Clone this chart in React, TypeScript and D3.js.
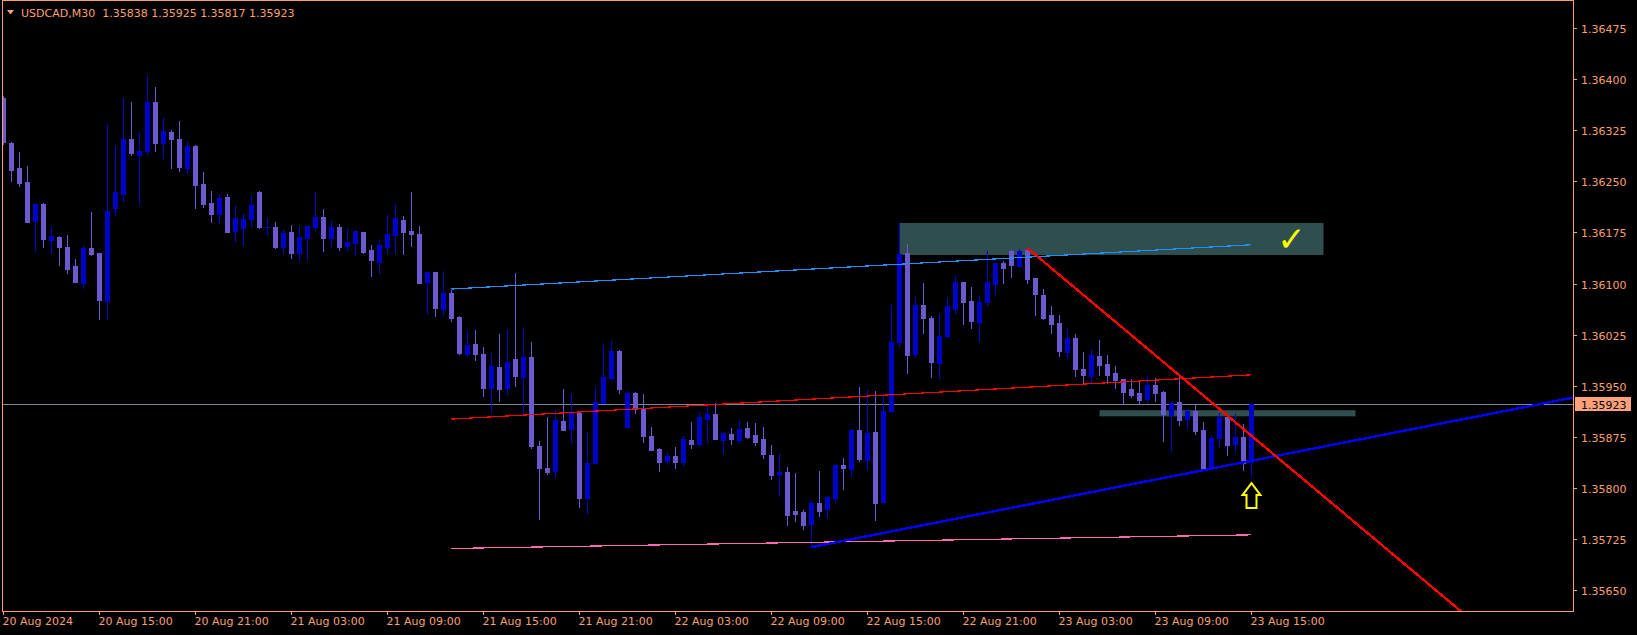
import React, { useEffect } from "react";
import * as d3 from "d3";

// ---- Data (USDCAD, M30) ----
const OPEN = [1.36373,1.36306,1.36270,1.36249,1.36192,1.36217,1.36164,1.36168,1.36154,1.36126,1.36101,1.36152,1.36145,1.36074,1.36211,1.36231,1.36312,1.36289,1.36295,1.36367,1.36306,1.36323,1.36312,1.36270,1.36302,1.36246,1.36218,1.36202,1.36227,1.36177,1.36182,1.36195,1.36234,1.36183,1.36183,1.36154,1.36176,1.36145,1.36167,1.36183,1.36198,1.36167,1.36183,1.36155,1.36160,1.36176,1.36149,1.36132,1.36154,1.36171,1.36193,1.36177,1.36173,1.36102,1.36117,1.36063,1.36086,1.36051,1.35996,1.36011,1.35996,1.35947,1.35977,1.35947,1.35989,1.35963,1.35992,1.35861,1.35829,1.35825,1.35898,1.35886,1.35910,1.35785,1.35836,1.35924,1.35961,1.36001,1.35889,1.35939,1.35916,1.35876,1.35857,1.35839,1.35847,1.35838,1.35870,1.35864,1.35901,1.35908,1.35870,1.35879,1.35870,1.35888,1.35877,1.35872,1.35848,1.35820,1.35823,1.35766,1.35764,1.35747,1.35778,1.35769,1.35785,1.35833,1.35828,1.35885,1.35841,1.35882,1.35779,1.35913,1.36014,1.36145,1.35996,1.36068,1.36049,1.35983,1.36023,1.36063,1.36102,1.36074,1.36043,1.36073,1.36099,1.36130,1.36148,1.36126,1.36149,1.36108,1.36083,1.36054,1.36042,1.35999,1.36020,1.35974,1.35964,1.35994,1.35982,1.35969,1.35960,1.35945,1.35939,1.35930,1.35951,1.35941,1.35907,1.35926,1.35901,1.35913,1.35885,1.35829,1.35873,1.35904,1.35864,1.35875,1.35838];
const HIGH = [1.36376,1.36308,1.36293,1.36273,1.36218,1.36218,1.36183,1.36170,1.36171,1.36136,1.36155,1.36205,1.36145,1.36334,1.36302,1.36372,1.36367,1.36323,1.36406,1.36389,1.36343,1.36325,1.36339,1.36308,1.36303,1.36264,1.36236,1.36231,1.36231,1.36214,1.36202,1.36230,1.36236,1.36196,1.36190,1.36179,1.36186,1.36184,1.36184,1.36234,1.36209,1.36192,1.36187,1.36180,1.36177,1.36176,1.36157,1.36165,1.36201,1.36217,1.36199,1.36234,1.36184,1.36117,1.36117,1.36118,1.36090,1.36052,1.36030,1.36032,1.36007,1.35998,1.36026,1.36032,1.36115,1.36036,1.36014,1.35869,1.35904,1.35914,1.35945,1.35938,1.35910,1.35882,1.35948,1.36010,1.36016,1.36002,1.35942,1.35941,1.35938,1.35889,1.35858,1.35853,1.35860,1.35876,1.35897,1.35910,1.35920,1.35924,1.35882,1.35888,1.35900,1.35897,1.35895,1.35889,1.35863,1.35850,1.35830,1.35822,1.35767,1.35781,1.35825,1.35788,1.35833,1.35844,1.35886,1.35948,1.35944,1.35942,1.35938,1.36068,1.36189,1.36158,1.36080,1.36101,1.36052,1.36055,1.36079,1.36111,1.36102,1.36095,1.36083,1.36148,1.36130,1.36133,1.36149,1.36151,1.36152,1.36108,1.36092,1.36067,1.36054,1.36033,1.36026,1.35999,1.36002,1.36017,1.35995,1.35979,1.35960,1.35960,1.35955,1.35966,1.35961,1.35942,1.35927,1.35963,1.35916,1.35922,1.35897,1.35877,1.35910,1.35905,1.35908,1.35894,1.35925];
const LOW = [1.36305,1.36251,1.36243,1.36190,1.36148,1.36154,1.36145,1.36127,1.36115,1.36102,1.36093,1.36142,1.36048,1.36048,1.36201,1.36221,1.36289,1.36217,1.36290,1.36295,1.36284,1.36270,1.36265,1.36262,1.36211,1.36212,1.36190,1.36189,1.36176,1.36162,1.36157,1.36184,1.36182,1.36173,1.36152,1.36145,1.36137,1.36135,1.36135,1.36179,1.36148,1.36155,1.36149,1.36149,1.36143,1.36145,1.36111,1.36115,1.36145,1.36145,1.36143,1.36155,1.36101,1.36057,1.36052,1.36054,1.36045,1.35996,1.35994,1.35988,1.35935,1.35911,1.35927,1.35938,1.35949,1.35910,1.35858,1.35754,1.35820,1.35816,1.35885,1.35867,1.35772,1.35763,1.35836,1.35924,1.35960,1.35939,1.35889,1.35910,1.35867,1.35855,1.35825,1.35835,1.35829,1.35833,1.35858,1.35861,1.35867,1.35872,1.35851,1.35864,1.35867,1.35873,1.35863,1.35844,1.35813,1.35788,1.35745,1.35751,1.35739,1.35713,1.35758,1.35757,1.35779,1.35798,1.35817,1.35839,1.35828,1.35753,1.35779,1.35911,1.36007,1.35969,1.35992,1.36027,1.35963,1.35961,1.36021,1.36057,1.36041,1.36035,1.36016,1.36068,1.36085,1.36101,1.36110,1.36124,1.36101,1.36054,1.36048,1.36027,1.35994,1.35991,1.35964,1.35952,1.35952,1.35966,1.35954,1.35947,1.35924,1.35933,1.35924,1.35926,1.35927,1.35869,1.35854,1.35892,1.35888,1.35879,1.35826,1.35829,1.35860,1.35848,1.35853,1.35826,1.35817];
const CLOSE = [1.36308,1.36267,1.36248,1.36190,1.36217,1.36165,1.36170,1.36154,1.36121,1.36102,1.36152,1.36143,1.36076,1.36207,1.36234,1.36312,1.36292,1.36295,1.36367,1.36306,1.36324,1.36312,1.36271,1.36302,1.36245,1.36217,1.36202,1.36226,1.36176,1.36196,1.36195,1.36215,1.36183,1.36183,1.36154,1.36174,1.36145,1.36168,1.36184,1.36198,1.36167,1.36183,1.36154,1.36161,1.36177,1.36146,1.36135,1.36157,1.36173,1.36196,1.36176,1.36173,1.36101,1.36117,1.36064,1.36086,1.36049,1.35998,1.36010,1.35996,1.35947,1.35979,1.35945,1.35985,1.35964,1.35992,1.35861,1.35829,1.35823,1.35900,1.35885,1.35910,1.35785,1.35836,1.35926,1.35963,1.36001,1.35945,1.35939,1.35916,1.35876,1.35855,1.35838,1.35847,1.35838,1.35872,1.35864,1.35904,1.35908,1.35872,1.35880,1.35872,1.35886,1.35875,1.35867,1.35850,1.35819,1.35823,1.35760,1.35761,1.35745,1.35778,1.35766,1.35786,1.35833,1.35829,1.35885,1.35842,1.35880,1.35778,1.35913,1.36014,1.36143,1.35995,1.36068,1.36049,1.35985,1.36023,1.36067,1.36102,1.36073,1.36045,1.36073,1.36102,1.36130,1.36123,1.36127,1.36148,1.36107,1.36085,1.36049,1.36041,1.36001,1.36020,1.35974,1.35966,1.35995,1.35980,1.35966,1.35958,1.35941,1.35936,1.35929,1.35951,1.35939,1.35908,1.35924,1.35900,1.35913,1.35883,1.35826,1.35873,1.35904,1.35863,1.35875,1.35836,1.35923];

const TIME_TICK_BARS = [0, 12, 24, 36, 48, 60, 72, 84, 96, 108, 120, 132, 144, 156];
const TIME_LABELS = ["20 Aug 2024", "20 Aug 15:00", "20 Aug 21:00", "21 Aug 03:00", "21 Aug 09:00", "21 Aug 15:00", "21 Aug 21:00", "22 Aug 03:00", "22 Aug 09:00", "22 Aug 15:00", "22 Aug 21:00", "23 Aug 03:00", "23 Aug 09:00", "23 Aug 15:00"];
const PRICE_TICKS = [1.36475, 1.364, 1.36325, 1.3625, 1.36175, 1.361, 1.36025, 1.3595, 1.35875, 1.358, 1.35725, 1.3565];
const SYMBOL_TITLE = "USDCAD,M30  1.35838 1.35925 1.35817 1.35923";
const BID = 1.35923;

// Drawn objects, anchored on [bar index, price]
const CHANNEL_TOP: [number, number][] = [[56, 1.36092], [156, 1.36157]];
const CHANNEL_MID: [number, number][] = [[56, 1.35901], [156, 1.35966]];
const CHANNEL_LOW: [number, number][] = [[56, 1.35711], [156, 1.35731]];
const SUPPORT_RAY: [number, number][] = [[101, 1.35713], [150, 1.35826]];
const RESIST_RAY: [number, number][] = [[128, 1.36152], [147, 1.35965]];
const ZONE_UPPER = { from: 112, to: 165, top: 1.36189, bottom: 1.36142 };
const ZONE_LOWER = { from: 137, to: 169, top: 1.35914, bottom: 1.35905 };
const CHECK_AT: [number, number] = [161, 1.36148];
const ARROW_AT: [number, number] = [156, 1.35807];

const W = 1637;
const H = 635;
const PLOT_L = 2;
const PLOT_R = 1573;
const PLOT_T = 0;
const PLOT_B = 611;
const FG = "#F8A070";
const FONT = "'DejaVu Sans', Tahoma, sans-serif";

export default function App() {
  useEffect(() => {
    document.body.style.margin = "0";
    document.body.style.background = "#000";
  }, []);

  const x = d3.scaleLinear().domain([0, 156]).range([3.5, 1251.5]);
  const y = d3.scaleLinear().domain([1.3565, 1.36475]).range([590, 28.2]);
  const rightIdx = x.invert(PLOT_R + 20);

  const ray = (pts: [number, number][], extend: boolean) => {
    const [[i0, p0], [i1, p1]] = pts;
    const slope = (p1 - p0) / (i1 - i0);
    const iEnd = extend ? rightIdx : i1;
    const pEnd = p0 + slope * (iEnd - i0);
    return d3.line()([[x(i0), y(p0)], [x(iEnd), y(pEnd)]]) || "";
  };

  const candles = OPEN.map((o, i) => {
    const c = CLOSE[i];
    const bull = c >= o;
    const col = bull ? "#0000CD" : "#6A5ACD";
    const cx = x(i);
    const top = Math.round(y(Math.max(o, c)));
    const bot = Math.round(y(Math.min(o, c)));
    const hy = Math.round(y(HIGH[i]));
    const ly = Math.round(y(LOW[i]));
    return (
      <g key={i} fill={col}>
        <rect x={cx - 0.5} y={hy} width={1} height={Math.max(1, ly - hy + 1)} />
        <rect x={cx - 2.5} y={top} width={5} height={Math.max(1, bot - top + 1)} />
      </g>
    );
  });

  const zone = (z: typeof ZONE_UPPER, key: string) => (
    <rect key={key} x={x(z.from)} y={y(z.top)} width={x(z.to) - x(z.from)} height={y(z.bottom) - y(z.top)} fill="#2F4F4F" />
  );

  const ax = x(ARROW_AT[0]);
  const ay = y(ARROW_AT[1]);
  const arrowPath = `M${ax},${ay} L${ax + 9},${ay + 12} L${ax + 5},${ay + 12} L${ax + 5},${ay + 25} L${ax - 5},${ay + 25} L${ax - 5},${ay + 12} L${ax - 9},${ay + 12} Z`;

  const bidY = Math.round(y(BID));

  return (
    <svg width={W} height={H} style={{ display: "block", background: "#000" }} fontFamily={FONT}>
      <defs>
        <clipPath id="plot">
          <rect x={PLOT_L + 1} y={PLOT_T + 1} width={PLOT_R - PLOT_L - 1} height={PLOT_B - PLOT_T - 1} />
        </clipPath>
      </defs>
      <rect x={0} y={0} width={W} height={H} fill="#000" />
      <g clipPath="url(#plot)">
        {zone(ZONE_UPPER, "zu")}
        {zone(ZONE_LOWER, "zl")}
        <line x1={PLOT_L} x2={PLOT_R} y1={bidY + 0.5} y2={bidY + 0.5} stroke="#778899" strokeWidth={1} />
        {candles}
        <g fill="none" shapeRendering="crispEdges">
          <path d={ray(CHANNEL_TOP, false)} stroke="#1E90FF" strokeWidth={1.2} />
          <path d={ray(CHANNEL_MID, false)} stroke="#FF0000" strokeWidth={1.2} />
          <path d={ray(CHANNEL_LOW, false)} stroke="#FF69B4" strokeWidth={1.2} />
          <path d={ray(SUPPORT_RAY, true)} stroke="#0000FF" strokeWidth={2.4} />
          <path d={ray(RESIST_RAY, true)} stroke="#FF0000" strokeWidth={2.4} />
        </g>
        <path d={arrowPath} fill="#000" stroke="#FFFF00" strokeWidth={2} strokeLinejoin="miter" />
        <text x={x(CHECK_AT[0])} y={y(CHECK_AT[1])} fontSize={34} fill="#FFFF00" fontWeight="bold" textAnchor="middle">✓</text>
      </g>

      {/* frame */}
      <rect x={PLOT_L + 0.5} y={PLOT_T + 0.5} width={PLOT_R - PLOT_L} height={PLOT_B - PLOT_T} fill="none" stroke={FG} strokeWidth={1} />

      {/* title */}
      <path d="M7,10 L14,10 L10.5,14.5 Z" fill={FG} />
      <text x={21} y={16.5} fontSize={11} fill={FG} style={{ whiteSpace: "pre" }}>{SYMBOL_TITLE}</text>

      {/* price axis */}
      {PRICE_TICKS.map((p) => {
        const ty = Math.round(y(p));
        return (
          <g key={p}>
            <rect x={PLOT_R + 1} y={ty} width={3} height={1} fill={FG} />
            <text x={1581} y={ty + 4.5} fontSize={11} fill={FG}>{p.toFixed(5)}</text>
          </g>
        );
      })}
      <rect x={1575} y={bidY - 7} width={56} height={14} fill="#FFA07A" />
      <text x={1581} y={bidY + 4.5} fontSize={11} fill="#000">{BID.toFixed(5)}</text>

      {/* time axis */}
      {TIME_TICK_BARS.map((b, k) => {
        const tx = x(b);
        return (
          <g key={b}>
            <rect x={tx - 0.5} y={PLOT_B + 1} width={1} height={3} fill={FG} />
            <text x={tx - 1} y={625} fontSize={11} fill={FG}>{TIME_LABELS[k]}</text>
          </g>
        );
      })}
    </svg>
  );
}
